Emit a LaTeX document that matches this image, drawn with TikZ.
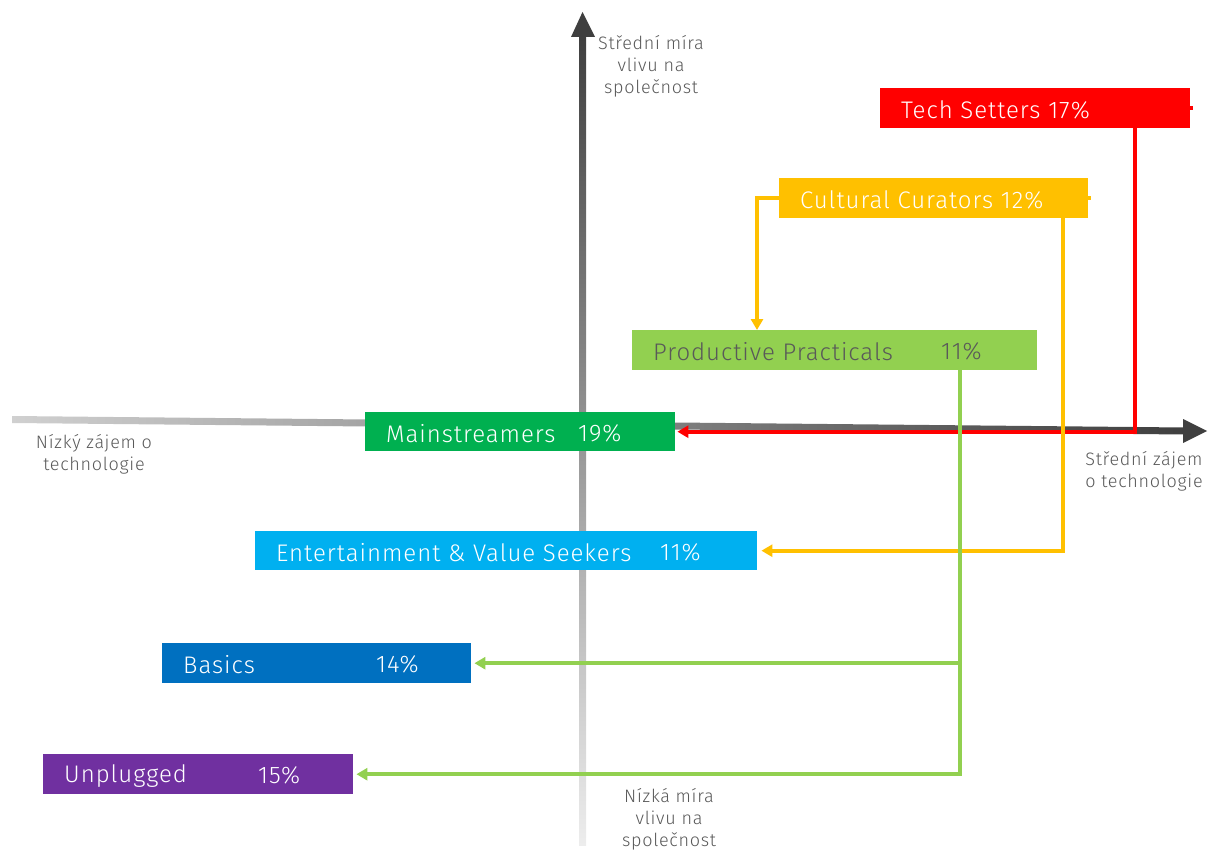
\documentclass[tikz,border=0pt]{standalone}
\usepackage{fontspec}
\setmainfont{Fira Sans Light}[LetterSpace=4]
\usetikzlibrary{arrows.meta}
\definecolor{axdark}{HTML}{3F3F3F}
\definecolor{axlight}{HTML}{D0D0D0}
\definecolor{labgray}{HTML}{595959}
\definecolor{tsred}{HTML}{FF0000}
\definecolor{ccyellow}{HTML}{FFC000}
\definecolor{ppgreen}{HTML}{92D050}
\definecolor{msgreen}{HTML}{00B050}
\definecolor{evcyan}{HTML}{00B0F0}
\definecolor{bablue}{HTML}{0070C0}
\definecolor{unpurple}{HTML}{7030A0}
\begin{document}
\begin{tikzpicture}[x=1pt,y=-1pt,
  segbox/.style={draw=none, minimum height=40pt, inner sep=0pt, anchor=north west},
  segtext/.style={anchor=west, inner sep=0pt, text=white, font=\fontsize{24}{26}\selectfont, yshift=-1.5pt},
  axlabel/.style={align=center, text=labgray, font=\fontsize{18}{22}\selectfont, inner sep=0pt},
  link/.style={line width=4pt, -{Triangle[length=11pt,width=12pt]}},
  stub/.style={line width=4pt}]
\useasboundingbox (0,0) rectangle (1214,851);

% vertical axis, fading downwards
\shade[top color=axdark, bottom color=white!93!black] (579,34) rectangle (586,845);
\fill[axdark] (571,37) -- (582.5,12) -- (595,37) -- cycle;

% horizontal axis, darkening to the right
\shade[left color=axlight, right color=axdark] (12,416) -- (1185,427.5) -- (1185,434.5) -- (12,423) -- cycle;
\fill[axdark] (1183,419) -- (1207,431) -- (1183,443) -- cycle;

% axis captions
\node[axlabel] (ytop) at (651,66) {Střední míra\\vlivu na\\společnost};
\node[axlabel] (ybot) at (669,819) {Nízká míra\\vlivu na\\společnost};
\node[axlabel] (xleft) at (94,454) {Nízký zájem o\\technologie};
\node[axlabel] (xright) at (1144,471) {Střední zájem\\o technologie};

% segment boxes
\node[segbox, fill=tsred, minimum width=310pt] (ts) at (880,88) {};
\node[segbox, fill=ccyellow, minimum width=309pt] (cc) at (779,178) {};
\node[segbox, fill=ppgreen, minimum width=405pt] (pp) at (632,330) {};
\node[segbox, fill=msgreen, minimum width=310pt, minimum height=39pt] (ms) at (365,412) {};
\node[segbox, fill=evcyan, minimum width=502pt, minimum height=39pt] (ev) at (255,531) {};
\node[segbox, fill=bablue, minimum width=309pt] (ba) at (162,643) {};
\node[segbox, fill=unpurple, minimum width=310pt] (un) at (43,754) {};

% box captions
\node[segtext] (tsname) at ([xshift=21pt]ts.west) {Tech Setters 17\%};
\node[segtext] (ccname) at ([xshift=21pt]cc.west) {Cultural Curators 12\%};
\node[segtext, text=labgray] (ppname) at ([xshift=21pt]pp.west) {Productive Practicals};
\node[segtext, text=labgray] (pppct) at ([xshift=309pt]pp.west) {11\%};
\node[segtext] (msname) at ([xshift=21pt]ms.west) {Mainstreamers};
\node[segtext] (mspct) at ([xshift=213pt]ms.west) {19\%};
\node[segtext] (evname) at ([xshift=21pt]ev.west) {Entertainment \& Value Seekers};
\node[segtext] (evpct) at ([xshift=405pt]ev.west) {11\%};
\node[segtext] (baname) at ([xshift=21pt]ba.west) {Basics};
\node[segtext] (bapct) at ([xshift=214pt]ba.west) {14\%};
\node[segtext] (unname) at ([xshift=21pt]un.west) {Unplugged};
\node[segtext] (unpct) at ([xshift=215pt]un.west) {15\%};

% routing columns
\coordinate (redx) at (1135,0);
\coordinate (ylwx) at (1063,0);
\coordinate (ylwleft) at (757,0);
\coordinate (grnx) at (960,0);

% connectors
\draw[link, draw=tsred, color=tsred] (ts.south -| redx) |- ([xshift=2pt]ms.east);
\draw[stub, tsred] (ts.east) -- ++(3,0);
\draw[link, draw=ccyellow, color=ccyellow] (cc.south -| ylwx) |- ([xshift=4pt]ev.east);
\draw[link, draw=ccyellow, color=ccyellow] (cc.west) -| (pp.north -| ylwleft);
\draw[stub, ccyellow] (cc.east) -- ++(3,0);
\draw[link, draw=ppgreen, color=ppgreen] (pp.south -| grnx) |- ([xshift=3pt]un.east);
\draw[link, draw=ppgreen, color=ppgreen] (grnx |- ba.east) -- ([xshift=3pt]ba.east);
\end{tikzpicture}
\end{document}
